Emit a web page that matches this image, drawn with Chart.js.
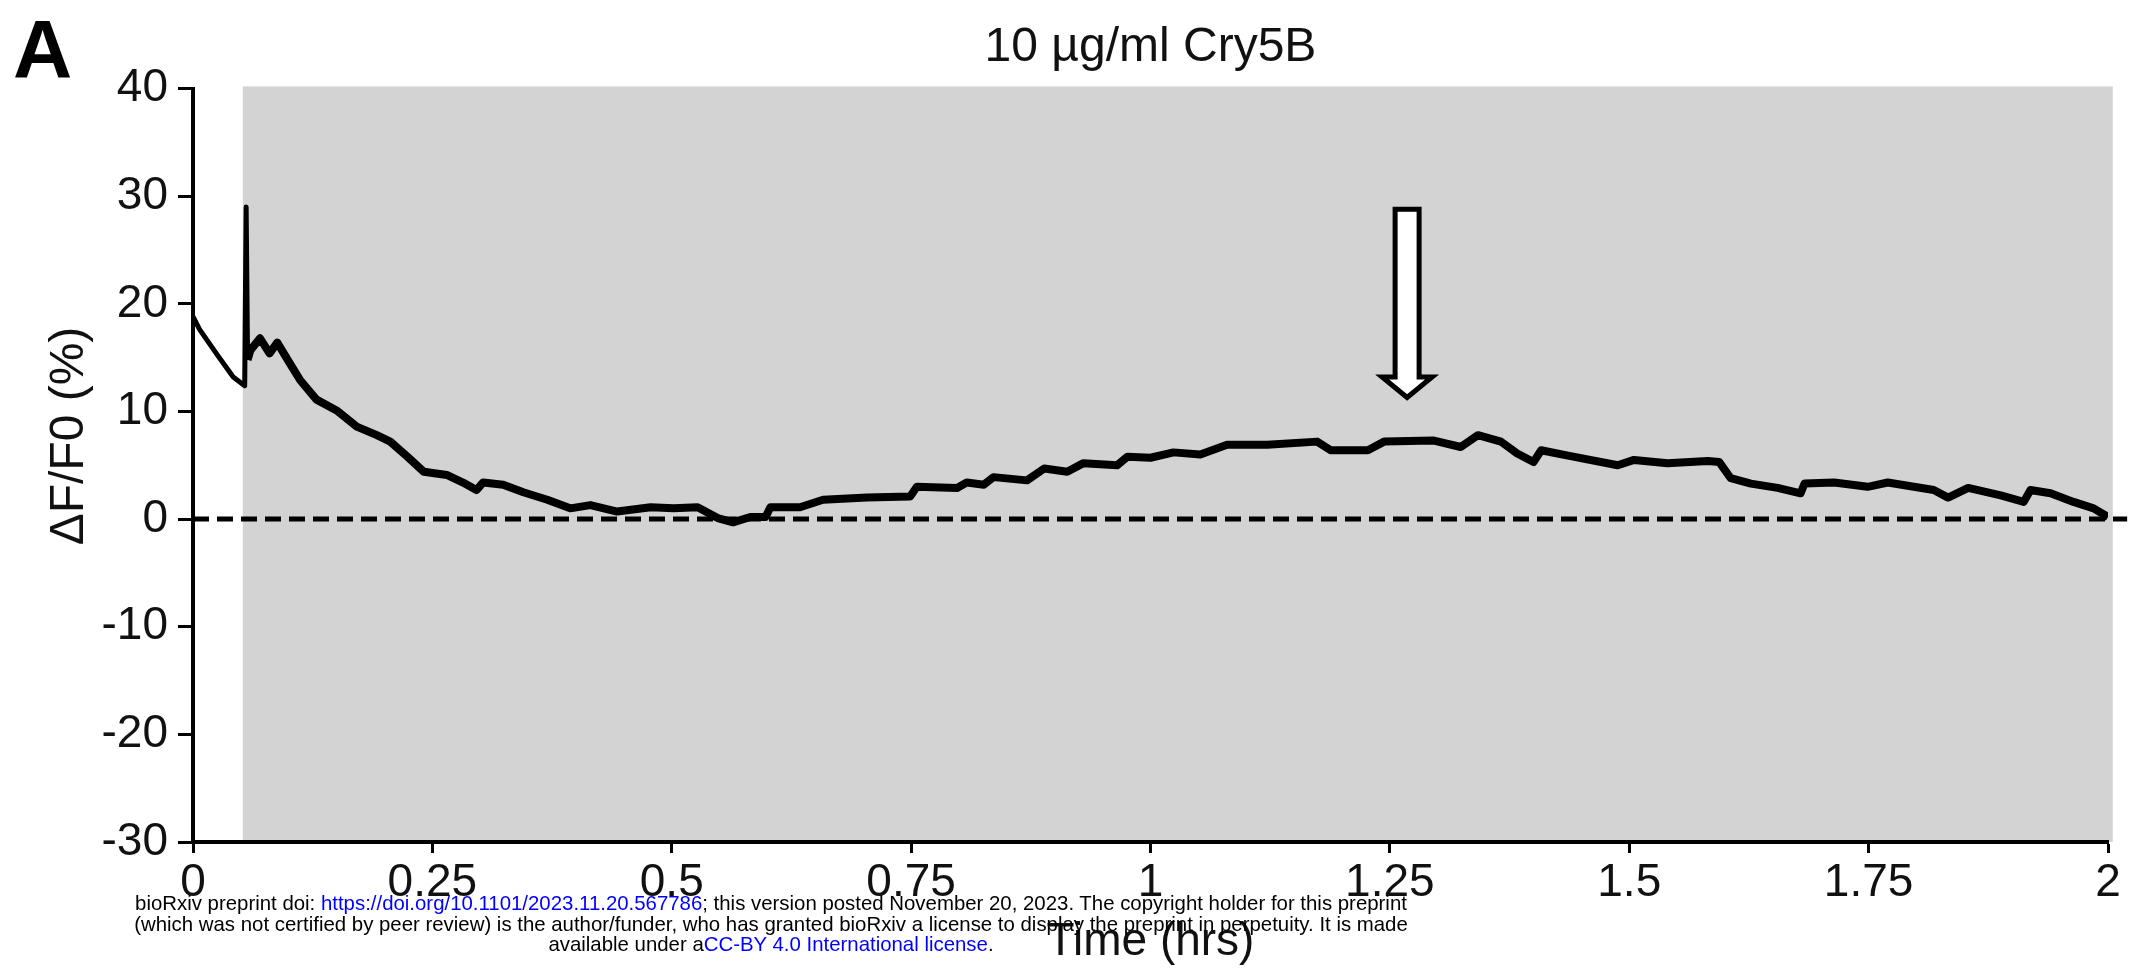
<!DOCTYPE html>
<html>
<head>
<meta charset="utf-8">
<script src="https://cdn.jsdelivr.net/npm/chart.js@4.4.1/dist/chart.umd.min.js"></script>
<style>
  body { margin: 0; background: #fff; }
  #wrap { position: relative; width: 2136px; height: 980px; }
  #panel { position: absolute; left: 13px; top: 2px; font: bold 82px "Liberation Sans", Arial, sans-serif; color: #000; }
  #note { position: absolute; left: 0; width: 1542px; top: 893px; text-align: center;
          font: 20.4px/20.5px "Liberation Sans", Arial, sans-serif; color: #000; }
  #note span { color: #0000ff; }
</style>
</head>
<body>
<div id="wrap">
  <canvas id="chart" width="2136" height="980"></canvas>
  <div id="panel">A</div>
  <div id="note">bioRxiv preprint doi: <span>https://doi.org/10.1101/2023.11.20.567786</span>; this version posted November 20, 2023. The copyright holder for this preprint<br>(which was not certified by peer review) is the author/funder, who has granted bioRxiv a license to display the preprint in perpetuity. It is made<br>available under a<span>CC-BY 4.0 International license</span>.</div>
</div>
<script>
/* --------------- Trace (time in hrs, dF/F0 in %) --------------------- */
const timeHrs = [
  0.000, 0.007, 0.025, 0.042, 0.054, 0.0555, 0.057, 0.060, 0.070, 0.080,
  0.088, 0.101, 0.112, 0.129, 0.150, 0.171, 0.192, 0.206, 0.224, 0.241,
  0.265, 0.282, 0.296, 0.303, 0.324, 0.345, 0.370, 0.394, 0.415, 0.443,
  0.478, 0.502, 0.527, 0.548, 0.564, 0.582, 0.598, 0.603, 0.634, 0.658,
  0.704, 0.749, 0.756, 0.798, 0.808, 0.826, 0.836, 0.871, 0.889, 0.913,
  0.930, 0.965, 0.976, 1.000, 1.024, 1.052, 1.080, 1.122, 1.174, 1.188,
  1.227, 1.244, 1.296, 1.324, 1.342, 1.366, 1.383, 1.400, 1.408, 1.436,
  1.488, 1.505, 1.540, 1.582, 1.594, 1.606, 1.627, 1.655, 1.679, 1.683,
  1.714, 1.749, 1.770, 1.818, 1.833, 1.854, 1.888, 1.912, 1.919, 1.940,
  1.964, 1.985, 2.000
];
const deltaF = [
  18.8, 17.6, 15.3, 13.2, 12.4, 29.0, 14.8, 15.7, 16.8, 15.4,
  16.4, 14.5, 12.9, 11.1, 10.1, 8.6, 7.8, 7.2, 5.8, 4.4,
  4.1, 3.4, 2.7, 3.4, 3.2, 2.5, 1.8, 1.0, 1.3, 0.7,
  1.1, 1.0, 1.1, 0.1, -0.3, 0.2, 0.2, 1.1, 1.1, 1.8,
  2.0, 2.1, 3.0, 2.9, 3.4, 3.2, 3.9, 3.6, 4.7, 4.4,
  5.2, 5.0, 5.8, 5.7, 6.2, 6.0, 6.9, 6.9, 7.2, 6.4,
  6.4, 7.2, 7.3, 6.7, 7.8, 7.2, 6.1, 5.3, 6.4, 5.9,
  5.0, 5.5, 5.2, 5.4, 5.3, 3.8, 3.3, 2.9, 2.4, 3.3,
  3.4, 3.0, 3.4, 2.7, 2.0, 2.9, 2.2, 1.6, 2.7, 2.4,
  1.6, 1.0, 0.2
];

/* --------------- Baseline, shaded period, arrow --------------------- */
const baseX = [0, 2.02];
const baseY = [0, 0];
const shadeX = [0.052, 2.005];
const shadeY = [-30, 40.2];
const arrowX = 1.268;
const arrowY = [28.8, 13.2, 11.3]; // top of shaft, start of head, tip

const xTicks = [0, 0.25, 0.5, 0.75, 1, 1.25, 1.5, 1.75, 2];
const yTicks = [-30, -20, -10, 0, 10, 20, 30, 40];
const yTitle = 'ΔF/F0 (%)';

const FONT = '"Liberation Sans", Arial, sans-serif';
const INK = '#111';

/* --------------- Shade, arrow, y title --------------------- */
const decorations = {
  id: 'decorations',
  beforeDraw(chart) {
    const { ctx, scales: { x, y } } = chart;
    const x0 = x.getPixelForValue(shadeX[0]), x1 = x.getPixelForValue(shadeX[1]);
    const y0 = y.getPixelForValue(shadeY[1]), y1 = y.getPixelForValue(shadeY[0]);
    ctx.save();
    ctx.fillStyle = '#d3d3d3';
    ctx.fillRect(x0, y0, x1 - x0, y1 - y0);
    ctx.restore();
  },
  afterDatasetsDraw(chart) {
    const { ctx, scales: { x, y } } = chart;
    const cx = x.getPixelForValue(arrowX);
    const top = y.getPixelForValue(arrowY[0]);
    const head = y.getPixelForValue(arrowY[1]);
    const tip = y.getPixelForValue(arrowY[2]);
    const sw = 12, hw = 25;
    ctx.save();
    ctx.beginPath();
    ctx.moveTo(cx - sw, top);
    ctx.lineTo(cx + sw, top);
    ctx.lineTo(cx + sw, head);
    ctx.lineTo(cx + hw, head);
    ctx.lineTo(cx, tip);
    ctx.lineTo(cx - hw, head);
    ctx.lineTo(cx - sw, head);
    ctx.closePath();
    ctx.fillStyle = '#fff';
    ctx.fill();
    ctx.lineWidth = 5;
    ctx.strokeStyle = '#000';
    ctx.stroke();
    ctx.restore();
  },
  afterDraw(chart) {
    // y title sits a bit above the middle of the axis in the original
    const ctx = chart.ctx;
    ctx.save();
    ctx.translate(70, 436);
    ctx.rotate(-Math.PI / 2);
    ctx.font = '48px ' + FONT;
    ctx.fillStyle = INK;
    ctx.textAlign = 'center';
    ctx.textBaseline = 'middle';
    ctx.fillText(yTitle, 0, 0);
    ctx.restore();
  }
};

new Chart(document.getElementById('chart'), {
  type: 'line',
  data: {
    datasets: [
      {
        label: 'ΔF/F0',
        data: timeHrs.map((t, i) => ({ x: t, y: deltaF[i] })),
        borderColor: '#000',
        borderWidth: 8,
        borderJoinStyle: 'round',
        pointRadius: 0,
        tension: 0,
        segment: { borderWidth: c => (c.p1.parsed.x < 0.06 ? 5 : 8) },
        order: 1
      },
      {
        label: 'baseline',
        data: baseX.map((t, i) => ({ x: t, y: baseY[i] })),
        borderColor: '#000',
        borderWidth: 5,
        borderDash: [16, 8],
        pointRadius: 0,
        clip: false,
        order: 2
      }
    ]
  },
  options: {
    responsive: false,
    animation: false,
    layout: { padding: { top: 0, right: 28, bottom: 0, left: 0 } },
    plugins: {
      legend: { display: false },
      tooltip: { enabled: false },
      title: {
        display: true,
        text: '10 µg/ml Cry5B',
        fullSize: false,
        color: INK,
        font: { family: FONT, size: 48, weight: 'normal' },
        padding: { top: 19, bottom: 12 }
      }
    },
    scales: {
      x: {
        type: 'linear',
        min: 0,
        max: 2,
        afterBuildTicks: s => { s.ticks = xTicks.map(v => ({ value: v })); },
        afterFit: s => { s.height = 138; },
        border: { color: '#000', width: 4 },
        grid: { drawOnChartArea: false, tickLength: 11, tickWidth: 3, tickColor: '#000' },
        ticks: {
          color: INK,
          font: { family: FONT, size: 46 },
          padding: 3,
          maxRotation: 0,
          callback: v => String(+(+v).toFixed(2))
        },
        title: {
          display: true,
          text: 'Time (hrs)',
          color: INK,
          font: { family: FONT, size: 46 },
          padding: { top: 0, bottom: 10 }
        }
      },
      y: {
        min: -30,
        max: 40,
        afterBuildTicks: s => { s.ticks = yTicks.map(v => ({ value: v })); },
        afterFit: s => { s.width = 193; },
        border: { color: '#000', width: 4 },
        grid: { drawOnChartArea: false, tickLength: 15, tickWidth: 3, tickColor: '#000' },
        ticks: {
          color: INK,
          font: { family: FONT, size: 46 },
          padding: 10
        }
      }
    }
  },
  plugins: [decorations]
});
</script>
</body>
</html>
